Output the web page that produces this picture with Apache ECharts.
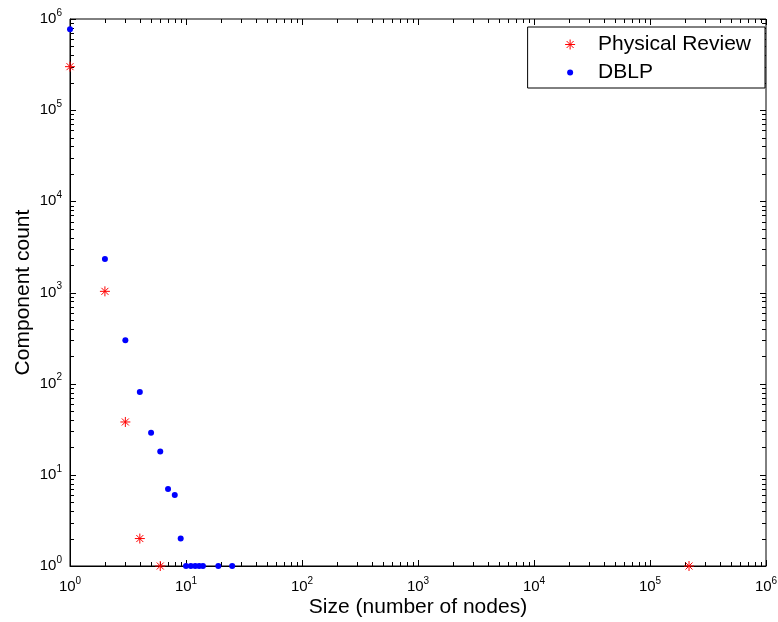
<!DOCTYPE html>
<html>
<head>
<meta charset="utf-8">
<script src="https://cdn.jsdelivr.net/npm/echarts@6/dist/echarts.min.js"></script>
<style>
  html, body { margin: 0; padding: 0; background: #fff; }
  #chart { width: 778px; height: 622px; }
</style>
</head>
<body>
<div id="chart"></div>
<script>
// ---- data ----
const prSizes   = [1, 2, 3, 4, 6, 217000];
const prCounts  = [300000, 1030, 38, 2, 1, 1];
const dblpSizes  = [1, 2, 3, 4, 5, 6, 7, 8, 9, 10, 11, 12, 13, 14, 19, 25];
const dblpCounts = [770000, 2330, 300, 81, 29, 18, 7, 6, 2, 1, 1, 1, 1, 1, 1, 1];
const seriesNames = ['Physical Review', 'DBLP'];
const xTitle = 'Size (number of nodes)';
const yTitle = 'Component count';
const axisMin = 1, axisMax = 1000000;
const majorTicks = [1, 10, 100, 1000, 10000, 100000, 1000000];
const decades = [1, 10, 100, 1000, 10000, 100000];
const minorMultipliers = [2, 3, 4, 5, 6, 7, 8, 9];

const FONT = '"Liberation Sans", Arial, Helvetica, sans-serif';
const MAJOR_LEN = 6, MINOR_LEN = 4;
const tickList = majorTicks.map(v => [v, MAJOR_LEN]);
decades.forEach(d => minorMultipliers.forEach(m => tickList.push([m * d, MINOR_LEN])));

const prData = prSizes.map((s, i) => [s, prCounts[i]]);
const dblpData = dblpSizes.map((s, i) => [s, dblpCounts[i]]);

const asterisk = 'path://M5,0 L5,10 M0,5 L10,5 M1.5,1.5 L8.5,8.5 M1.5,8.5 L8.5,1.5';
const smallDot = 'path://M0,0 M10,10 M5,2 A3,3 0 1 1 5,8 A3,3 0 1 1 5,2 Z';

function powLabel(v) {
  const e = Math.round(Math.log10(v));
  return '{n|10}{s|' + e + '}';
}
const labelRich = {
  n: { fontSize: 15, fontFamily: FONT, color: '#000', lineHeight: 22 },
  s: { fontSize: 10, fontFamily: FONT, color: '#000', verticalAlign: 'top', lineHeight: 12 }
};

function logAxis(extra) {
  return Object.assign({
    type: 'log', logBase: 10, min: axisMin, max: axisMax,
    splitLine: { show: false },
    axisLine: { show: true, onZero: false, lineStyle: { color: '#000', width: 1 } },
    axisTick: { show: false },
    minorTick: { show: false }
  }, extra);
}

function tickRenderer(isX) {
  return function (params, api) {
    const v = api.value(0);
    const L = api.value(1);
    const cs = params.coordSys;
    if (isX) {
      const p = api.coord([v, axisMin]);
      const x = Math.round(p[0]) + 0.5;
      const b = cs.y + cs.height, t = cs.y;
      return { type: 'group', children: [
        { type: 'line', shape: { x1: x, y1: b, x2: x, y2: b - L }, style: { stroke: '#000', lineWidth: 1 } },
        { type: 'line', shape: { x1: x, y1: t, x2: x, y2: t + L }, style: { stroke: '#000', lineWidth: 1 } }
      ]};
    } else {
      const p = api.coord([axisMin, v]);
      const y = Math.round(p[1]) + 0.5;
      const l = cs.x, r = cs.x + cs.width;
      return { type: 'group', children: [
        { type: 'line', shape: { x1: l, y1: y, x2: l + L, y2: y }, style: { stroke: '#000', lineWidth: 1 } },
        { type: 'line', shape: { x1: r, y1: y, x2: r - L, y2: y }, style: { stroke: '#000', lineWidth: 1 } }
      ]};
    }
  };
}

const chart = echarts.init(document.getElementById('chart'), null, { renderer: 'canvas' });
chart.setOption({
  animation: false,
  backgroundColor: '#fff',
  textStyle: { fontFamily: FONT },
  grid: {
    left: 70, right: 12, top: 19, bottom: 56,
    containLabel: false, outerBoundsMode: 'none',
    show: true, borderColor: '#000', borderWidth: 1, backgroundColor: 'transparent'
  },
  legend: {
    orient: 'vertical',
    right: 13, top: 27,
    backgroundColor: '#fff',
    borderColor: '#000', borderWidth: 1, borderRadius: 0,
    padding: [7, 14, 5, 37],
    itemGap: 7,
    itemWidth: 10, itemHeight: 10,
    z: 20,
    textStyle: { fontSize: 21, fontFamily: FONT, color: '#000', padding: [0, 0, 0, 18] },
    data: [
      { name: seriesNames[0], icon: asterisk, itemStyle: { color: 'red', borderColor: 'red', borderWidth: 1 } },
      { name: seriesNames[1], icon: smallDot, itemStyle: { color: 'blue', borderWidth: 0 } }
    ]
  },
  xAxis: [
    logAxis({
      position: 'bottom',
      name: xTitle, nameLocation: 'middle', nameGap: 31, nameMoveOverlap: false,
      nameTextStyle: { fontSize: 21, fontFamily: FONT, color: '#000' },
      axisLabel: { show: true, margin: 10, formatter: powLabel, rich: labelRich }
    }),
    logAxis({
      position: 'top',
      axisLine: { show: false },
      axisLabel: { show: false }
    })
  ],
  yAxis: [
    logAxis({
      position: 'left',
      name: yTitle, nameLocation: 'middle', nameGap: 36, nameMoveOverlap: false,
      nameTextStyle: { fontSize: 21, fontFamily: FONT, color: '#000' },
      axisLabel: { show: true, margin: 8, formatter: powLabel, rich: labelRich }
    }),
    logAxis({
      position: 'right',
      axisLine: { show: false },
      axisLabel: { show: false }
    })
  ],
  series: [
    {
      type: 'custom', silent: true, clip: false,
      xAxisIndex: 0, yAxisIndex: 0, z: 1,
      renderItem: tickRenderer(true),
      data: tickList
    },
    {
      type: 'custom', silent: true, clip: false,
      xAxisIndex: 0, yAxisIndex: 0, z: 1,
      renderItem: tickRenderer(false),
      data: tickList
    },
    {
      name: seriesNames[0], type: 'scatter', clip: false,
      xAxisIndex: 0, yAxisIndex: 0,
      symbol: asterisk, symbolSize: 10,
      itemStyle: { color: 'red', borderColor: 'red', borderWidth: 1, opacity: 1 },
      data: prData, z: 3
    },
    {
      name: seriesNames[1], type: 'scatter', clip: false,
      xAxisIndex: 0, yAxisIndex: 0,
      symbol: 'circle', symbolSize: 6,
      itemStyle: { color: 'blue', borderWidth: 0, opacity: 1 },
      data: dblpData, z: 4
    }
  ]
});
</script>
</body>
</html>
